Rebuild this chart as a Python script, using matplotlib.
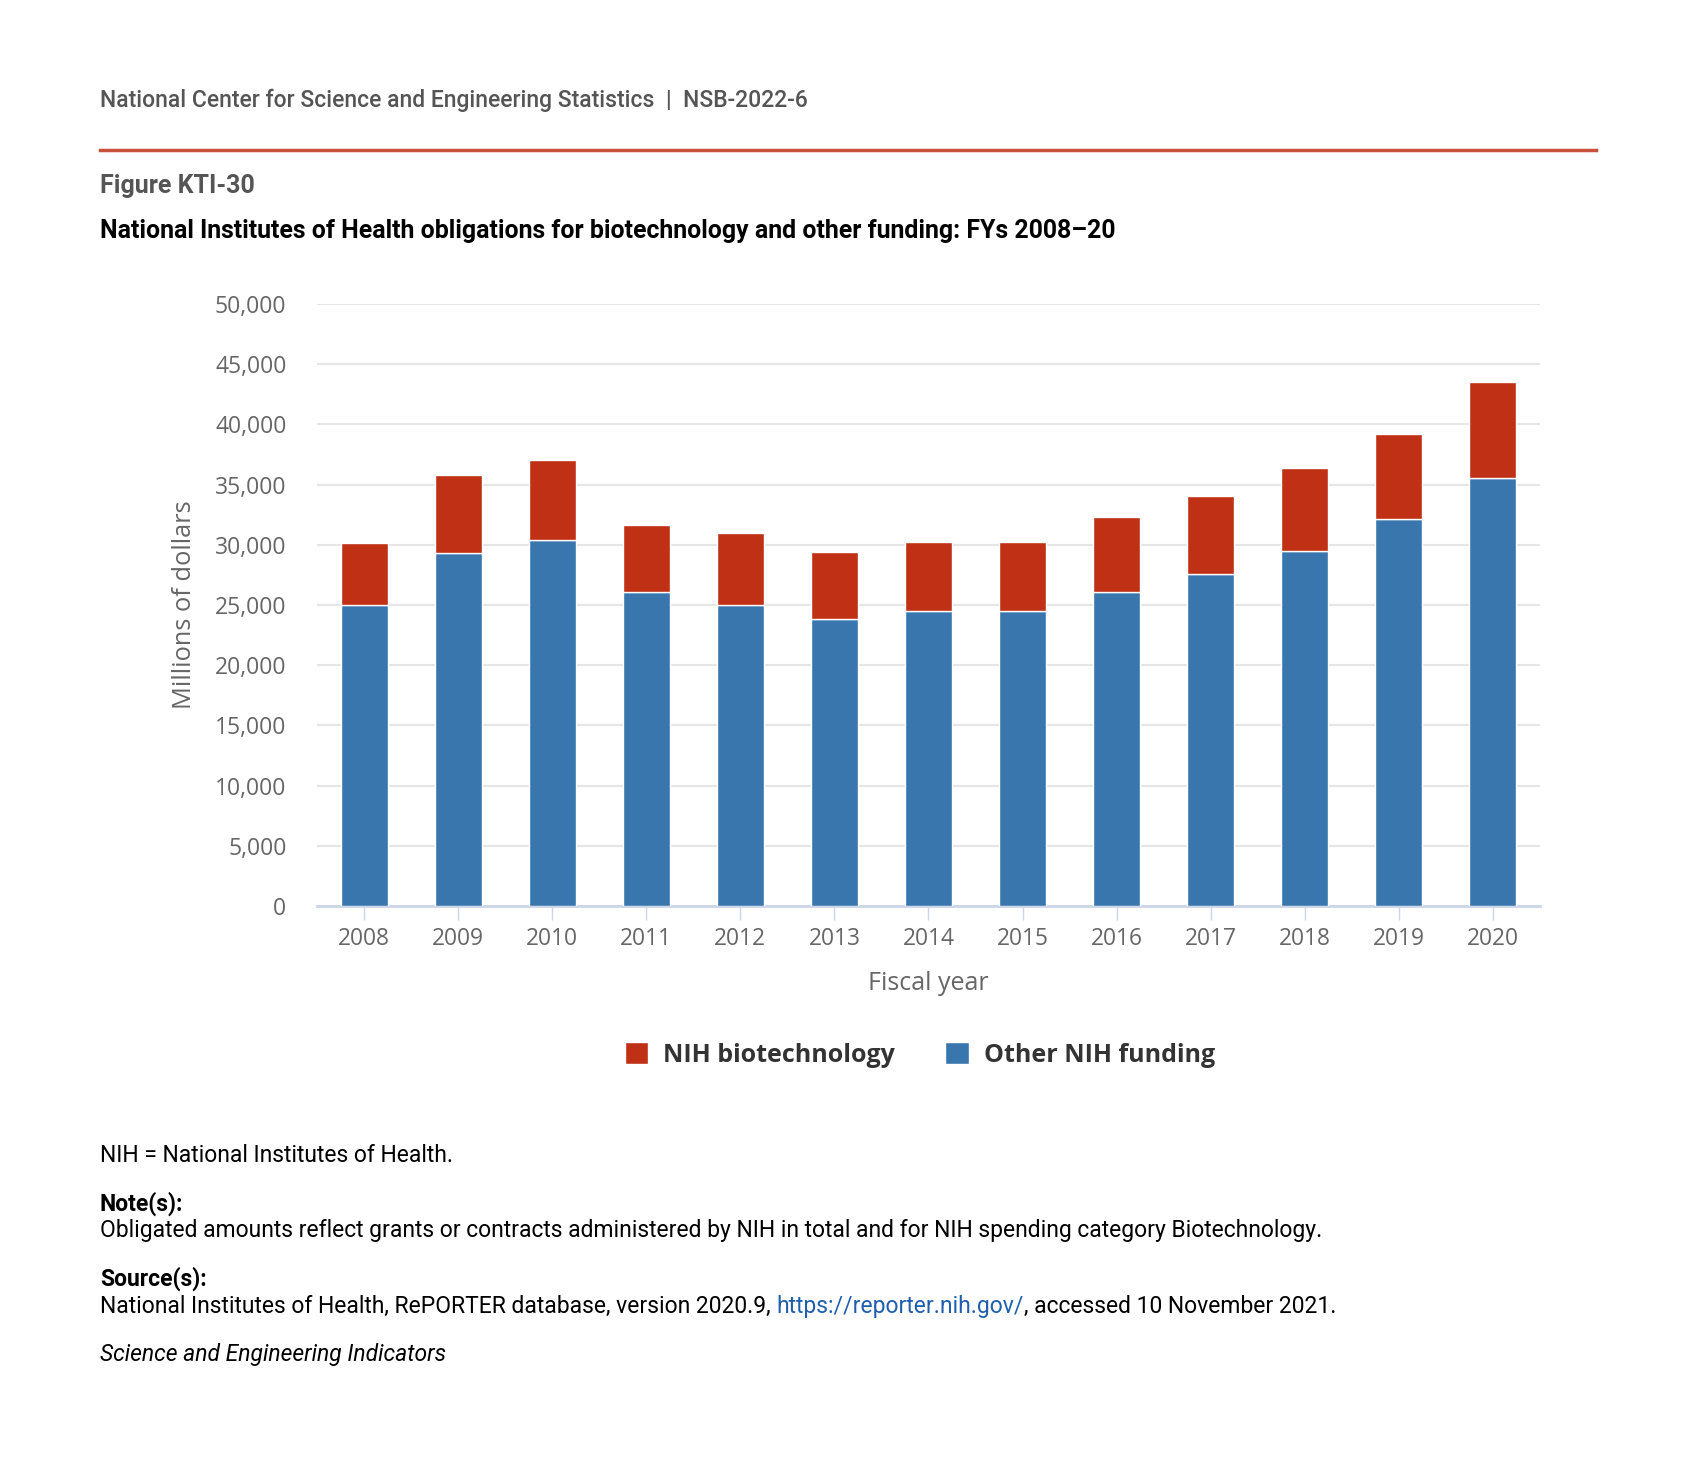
import matplotlib
matplotlib.use("Agg")
import matplotlib.pyplot as plt
from matplotlib.patches import Patch

years = ["2008", "2009", "2010", "2011", "2012", "2013", "2014",
         "2015", "2016", "2017", "2018", "2019", "2020"]
other_nih = [25020, 29300, 30410, 26100, 25030, 23860, 24500,
             24500, 26100, 27590, 29500, 32120, 35550]
biotech = [5120, 6470, 6600, 5530, 5930, 5530, 5770,
           5770, 6240, 6490, 6850, 7100, 8010]
yticks = [0, 5000, 10000, 15000, 20000, 25000, 30000, 35000, 40000, 45000, 50000]

RED = "#bf3015"
BLUE = "#3a76ae"
W, H = 1699, 1475

fig = plt.figure(figsize=(W / 100, H / 100), dpi=100)

def fx(px):
    return px / W

def fy(py):
    return 1 - py / H

# header
fig.text(fx(100), fy(100), "National Center for Science and Engineering Statistics  |  NSB-2022-6",
         family="Roboto", fontweight="medium", fontsize=16.5, color="#555555", va="center")
fig.add_artist(plt.Line2D([fx(100), fx(1596)], [fy(150), fy(150)], color="#c9503a", lw=2.5))
fig.text(fx(100), fy(186), "Figure KTI-30", family="Roboto", fontweight="bold",
         fontsize=18, color="#555555", va="center")
fig.text(fx(100), fy(231), "National Institutes of Health obligations for biotechnology and other funding: FYs 2008\u201320",
         family="Roboto", fontweight="bold", fontsize=17.9, color="#000000", va="center")

# chart
ax = fig.add_axes([fx(317), fy(906), fx(1540) - fx(317), fy(304) - fy(906)])
x = range(len(years))
ax.bar(x, other_nih, width=0.5, color=BLUE, edgecolor="white", linewidth=1, zorder=3)
ax.bar(x, biotech, bottom=other_nih, width=0.5, color=RED, edgecolor="white", linewidth=1, zorder=3)

ax.set_xlim(-0.5, len(years) - 0.5)
ax.set_ylim(0, 50000)
ax.set_yticks(yticks)
ax.set_yticklabels([f"{v:,}" for v in yticks])
ax.set_xticks(list(x))
ax.set_xticklabels(years)
ax.yaxis.grid(True, color="#e6e6e6", lw=1.5)
ax.set_axisbelow(True)
for s in ["top", "right", "left"]:
    ax.spines[s].set_visible(False)
ax.spines["bottom"].set_color("#ccd6eb")
ax.spines["bottom"].set_linewidth(2)
ax.tick_params(axis="y", length=0, pad=22, labelsize=16.5, labelcolor="#666666")
ax.tick_params(axis="x", length=10, width=1, color="#ccd6eb", pad=5, labelsize=16.4, labelcolor="#666666")
for lab in ax.get_xticklabels() + ax.get_yticklabels():
    lab.set_family("Open Sans")
ax.set_ylabel("Millions of dollars", family="Open Sans", fontsize=18.3, color="#666666")
ax.yaxis.set_label_coords(-0.108, 0.5)
ax.yaxis.label.set_va("center")
ax.set_xlabel("Fiscal year", family="Open Sans", fontsize=18, color="#666666")
ax.xaxis.set_label_coords(0.5, -0.128)
ax.xaxis.label.set_va("center")

handles = [Patch(facecolor=RED, edgecolor="white", label="NIH biotechnology"),
           Patch(facecolor=BLUE, edgecolor="white", label="Other NIH funding")]
leg = fig.legend(handles=handles, loc="center", bbox_to_anchor=(fx(920), fy(1055)), ncol=2,
                 frameon=False, handlelength=0.95, handleheight=0.95, handletextpad=0.6,
                 columnspacing=2.0, prop={"family": "Open Sans", "weight": "bold", "size": 18})
for t in leg.get_texts():
    t.set_color("#333333")

# footnotes
fs = 16.5
fig.text(fx(100), fy(1156), "NIH = National Institutes of Health.", family="Roboto", fontsize=fs, va="center")
fig.text(fx(100), fy(1204), "Note(s):", family="Roboto", fontweight="bold", fontsize=fs, va="center")
fig.text(fx(100), fy(1231), "Obligated amounts reflect grants or contracts administered by NIH in total and for NIH spending category Biotechnology.",
         family="Roboto", fontsize=fs, va="center")
fig.text(fx(100), fy(1279), "Source(s):", family="Roboto", fontweight="bold", fontsize=fs, va="center")

renderer = fig.canvas.get_renderer()
parts = [("National Institutes of Health, RePORTER database, version 2020.9, ", "black"),
         ("https://reporter.nih.gov/", "#1f5fae"),
         (", accessed 10 November 2021.", "black")]
xpos = fx(100)
for txt, col in parts:
    t = fig.text(xpos, fy(1306), txt, family="Roboto", fontsize=fs, color=col, va="center")
    bb = t.get_window_extent(renderer=renderer)
    xpos = bb.x1 / W
fig.text(fx(100), fy(1354), "Science and Engineering Indicators", family="Roboto", style="italic",
         fontsize=fs, va="center")

fig.savefig("out.png", dpi=100, facecolor="white")
